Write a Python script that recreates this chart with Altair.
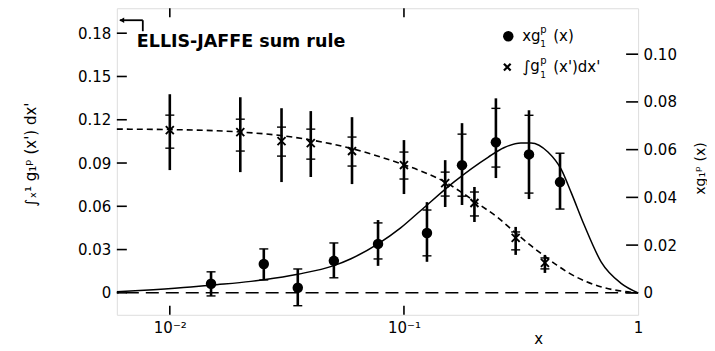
import altair as alt
import pandas as pd

# ---------------- data ----------------
cross_x = [0.01, 0.02, 0.03, 0.04, 0.06, 0.10, 0.15, 0.20, 0.30, 0.40]
cross_y = [0.1128, 0.1114, 0.1052, 0.1038, 0.0983, 0.0886, 0.0761, 0.0623, 0.0381, 0.0208]
cross_outer_lo = [0.0851, 0.0837, 0.0768, 0.0803, 0.0754, 0.0685, 0.0595, 0.0491, 0.0263, 0.0138]
cross_outer_hi = [0.1377, 0.1356, 0.1280, 0.1260, 0.1218, 0.1059, 0.0920, 0.0734, 0.0457, 0.0263]
cross_stat_lo = [0.1003, 0.0983, 0.0948, 0.0927, 0.0879, 0.0789, 0.0671, 0.0533, 0.0298, 0.0166]
cross_stat_hi = [0.1232, 0.1204, 0.1149, 0.1135, 0.1080, 0.0976, 0.0837, 0.0699, 0.0422, 0.0242]

circ_x = [0.015, 0.0252, 0.0352, 0.0502, 0.0775, 0.1254, 0.177, 0.247, 0.342, 0.464]
circ_y = [0.0038, 0.0121, 0.0021, 0.0134, 0.0205, 0.0251, 0.0535, 0.0631, 0.0580, 0.0464]
circ_outer_lo = [-0.0013, 0.0054, -0.0054, 0.0063, 0.0113, 0.0130, 0.0368, 0.0481, 0.0393, 0.0351]
circ_outer_hi = [0.0088, 0.0184, 0.0100, 0.0209, 0.0305, 0.0380, 0.0711, 0.0815, 0.0765, 0.0585]
circ_stat_lo = [-0.0013, 0.0054, -0.0054, 0.0063, 0.0142, 0.0155, 0.0405, 0.0527, 0.0418, 0.0351]
circ_stat_hi = [0.0088, 0.0184, 0.0100, 0.0209, 0.0293, 0.0347, 0.0665, 0.0773, 0.0744, 0.0585]

int_curve_x = [0.00594, 0.01, 0.02, 0.03, 0.04, 0.06, 0.08, 0.10, 0.118, 0.15, 0.175,
               0.20, 0.25, 0.30, 0.35, 0.40, 0.45, 0.50, 0.60, 0.70, 0.85, 1.0]
int_curve_y = [0.1135, 0.1132, 0.1115, 0.1090, 0.1060, 0.1000, 0.0940, 0.0888, 0.0845, 0.0768, 0.0700,
               0.0635, 0.0525, 0.0415, 0.0325, 0.0252, 0.0192, 0.0143, 0.0078, 0.0040, 0.0012, 0.0]

g1_curve_x = [0.00594, 0.0085, 0.0123, 0.015, 0.0222, 0.0252, 0.0352, 0.0502, 0.0594, 0.0775, 0.0968,
              0.118, 0.1637, 0.2286, 0.267, 0.316, 0.349, 0.412, 0.469, 0.518, 0.588, 0.695, 0.846, 1.0]
g1_curve_y = [0.0005, 0.0013, 0.0024, 0.0032, 0.0048, 0.0055, 0.0078, 0.0114, 0.0143, 0.0205, 0.0272,
              0.0345, 0.0465, 0.0568, 0.0608, 0.0628, 0.0628, 0.0590, 0.0518, 0.0420, 0.0285, 0.0130,
              0.0040, 0.0]

left_ticks = [0, 0.03, 0.06, 0.09, 0.12, 0.15, 0.18]
right_ticks = [0, 0.02, 0.04, 0.06, 0.08, 0.10]
x_ticks = [0.01, 0.1, 1]
ellis_jaffe = [0.189]
zero_level = [0.0]

ellis_text = ["ELLIS-JAFFE sum rule"]
left_title = "\u222b\u2093\u00b9 g\u2081\u1d56 (x') dx'"
right_title = "xg\u2081\u1d56 (x)"

# ---------------- layout ----------------
FONT = "DejaVu Sans"
W, H = 522, 307
X_DOMAIN = [0.00594, 1.0]
L_DOMAIN = [-0.01523, 0.19731]
R_DOMAIN = [-0.009205, 0.11925]
CROSS = "M-1,-1L1,1M1,-1L-1,1"

xscale = alt.Scale(type="log", domain=X_DOMAIN, nice=False)
xaxis = alt.Axis(
    values=x_ticks,
    labelExpr="datum.value >= 0.5 ? '1' : (datum.value >= 0.05 ? '10\u207b\u00b9' : '10\u207b\u00b2')",
    ticks=False, tickSize=0, domain=False, grid=False,
    labelFont=FONT, labelFontSize=15, labelColor="black", labelPadding=6, labelFlush=False,
    title="x", titleFont=FONT, titleFontSize=15, titleFontWeight="normal", titleColor="black",
    titleX=422, titleY=32, titleBaseline="bottom", titleAlign="center",
)


def X(field="x"):
    return alt.X(f"{field}:Q", scale=xscale, axis=xaxis)


lscale = alt.Scale(domain=L_DOMAIN, nice=False, zero=False)
laxis = alt.Axis(
    orient="left", values=left_ticks,
    labelExpr="datum.value == 0 ? '0' : format(datum.value, '.2f')",
    ticks=False, tickSize=0, domain=False, grid=False,
    labelFont=FONT, labelFontSize=15, labelColor="black", labelPadding=6,
    title=left_title, titleFont=FONT, titleFontSize=15, titleFontWeight="normal", titleColor="black",
    titleAngle=270, titleX=-86, titleY=146, titleBaseline="middle", titleAlign="center",
)
rscale = alt.Scale(domain=R_DOMAIN, nice=False, zero=False)
raxis = alt.Axis(
    orient="right", values=right_ticks,
    labelExpr="datum.value == 0 ? '0' : format(datum.value, '.2f')",
    ticks=False, tickSize=0, domain=False, grid=False,
    labelFont=FONT, labelFontSize=15, labelColor="black", labelPadding=5,
    title=right_title, titleFont=FONT, titleFontSize=14, titleFontWeight="normal", titleColor="black",
    titleAngle=270, titleX=62, titleY=160, titleBaseline="middle", titleAlign="center",
)


def YL(field):
    return alt.Y(f"{field}:Q", scale=lscale, axis=laxis)


def YR(field):
    return alt.Y(f"{field}:Q", scale=rscale, axis=raxis)


crosses = pd.DataFrame({"x": cross_x, "y": cross_y, "olo": cross_outer_lo, "ohi": cross_outer_hi,
                        "slo": cross_stat_lo, "shi": cross_stat_hi})
circles = pd.DataFrame({"x": circ_x, "y": circ_y, "olo": circ_outer_lo, "ohi": circ_outer_hi,
                        "slo": circ_stat_lo, "shi": circ_stat_hi})
int_curve = pd.DataFrame({"x": int_curve_x, "y": int_curve_y})
g1_curve = pd.DataFrame({"x": g1_curve_x, "y": g1_curve_y})

# ---------------- left (integral) group ----------------
zero_line = alt.Chart(pd.DataFrame({"v": zero_level})).mark_rule(
    color="black", strokeWidth=1.5, strokeDash=[13, 7]).encode(y=YL("v"))
int_line = alt.Chart(int_curve).mark_line(
    color="black", strokeWidth=1.6, strokeDash=[6, 4], interpolate="monotone").encode(x=X(), y=YL("y"))
cross_thick = alt.Chart(crosses).mark_rule(color="black", strokeWidth=2.6).encode(
    x=X(), y=YL("olo"), y2="ohi")
cross_thin = alt.Chart(crosses).mark_rule(color="black", strokeWidth=1.2).encode(
    x=X(), y=YL("slo"), y2="shi")
cross_caps = alt.Chart(crosses).transform_fold(["slo", "shi"], as_=["k", "v"]).mark_tick(
    orient="horizontal", size=9, thickness=1.4, color="black", opacity=1).encode(x=X(), y=YL("v"))
cross_pts = alt.Chart(crosses).mark_point(
    shape=CROSS, size=64, strokeWidth=1.9, color="black", filled=False, opacity=1).encode(x=X(), y=YL("y"))
left_tk = alt.Chart(pd.DataFrame({"v": left_ticks})).mark_tick(
    orient="horizontal", size=10, thickness=1.6, color="black", opacity=1).encode(x=alt.value(5), y=YL("v"))
x_tk_bottom = alt.Chart(pd.DataFrame({"v": x_ticks[:2]})).mark_tick(
    orient="vertical", size=9, thickness=1.6, color="black", opacity=1).encode(x=X("v"), y=alt.value(H - 4.5))
x_tk_top = alt.Chart(pd.DataFrame({"v": x_ticks[:2]})).mark_tick(
    orient="vertical", size=9, thickness=1.6, color="black", opacity=1).encode(x=X("v"), y=alt.value(4.5))
ej = pd.DataFrame({"v": ellis_jaffe})
arrow_h = alt.Chart(ej).mark_rule(color="black", strokeWidth=1.8).encode(
    x=alt.value(3), x2=alt.value(26), y=YL("v"))
arrow_v = alt.Chart(ej).mark_rule(color="black", strokeWidth=1.8).encode(
    x=alt.value(26), y=YL("v"), y2=alt.value(23))
arrow_head = alt.Chart(ej).mark_point(
    shape="triangle-left", filled=True, size=30, color="black", opacity=1).encode(x=alt.value(5), y=YL("v"))
ej_text = alt.Chart(pd.DataFrame({"t": ellis_text})).mark_text(
    align="left", baseline="middle", font=FONT, fontSize=17.5, fontWeight="bold", color="black").encode(
    x=alt.value(20), y=alt.value(34), text="t:N")

left = alt.layer(zero_line, int_line, cross_thick, cross_thin, cross_caps, cross_pts,
                 left_tk, x_tk_bottom, x_tk_top, arrow_h, arrow_v, arrow_head, ej_text)

# ---------------- right (xg1) group ----------------
g1_line = alt.Chart(g1_curve).mark_line(
    color="black", strokeWidth=1.5, interpolate="monotone").encode(x=X(), y=YR("y"))
circ_thick = alt.Chart(circles).mark_rule(color="black", strokeWidth=2.6).encode(
    x=X(), y=YR("olo"), y2="ohi")
circ_thin = alt.Chart(circles).mark_rule(color="black", strokeWidth=1.2).encode(
    x=X(), y=YR("slo"), y2="shi")
circ_caps = alt.Chart(circles).transform_fold(["slo", "shi"], as_=["k", "v"]).mark_tick(
    orient="horizontal", size=9, thickness=1.4, color="black", opacity=1).encode(x=X(), y=YR("v"))
circ_pts = alt.Chart(circles).mark_point(
    shape="circle", size=110, filled=True, color="black", opacity=1).encode(x=X(), y=YR("y"))
right_tk = alt.Chart(pd.DataFrame({"v": right_ticks})).mark_tick(
    orient="horizontal", size=12, thickness=1.6, color="black", opacity=1).encode(x=alt.value(W - 6), y=YR("v"))

# legend
leg1_dot = alt.Chart(pd.DataFrame({"t": ["dot"]})).mark_point(
    shape="circle", size=110, filled=True, color="black", opacity=1).encode(x=alt.value(392), y=alt.value(28))
leg2_x = alt.Chart(pd.DataFrame({"t": ["cross"]})).mark_point(
    shape=CROSS, size=45, strokeWidth=2.2, color="black", filled=False, opacity=1).encode(
    x=alt.value(391), y=alt.value(59))


def txt(s, px, py, size, align="left"):
    return alt.Chart(pd.DataFrame({"t": [s]})).mark_text(
        align=align, baseline="middle", font=FONT, fontSize=size, color="black").encode(
        x=alt.value(px), y=alt.value(py), text="t:N")


legend = [
    leg1_dot, leg2_x,
    txt("xg", 406, 28, 15), txt("p", 424, 22, 10), txt("1", 424, 36, 9), txt("(x)", 437, 28, 15),
    txt("\u222b", 406, 59, 16), txt("g", 414, 58, 15), txt("p", 424, 53, 10), txt("1", 424, 67, 9),
    txt("(x')dx'", 437, 59, 15),
]

right = alt.layer(g1_line, circ_thick, circ_thin, circ_caps, circ_pts, right_tk, *legend)

chart = alt.layer(left, right).resolve_scale(y="independent").properties(
    width=W, height=H,
    padding={"left": 16, "top": 0, "right": 0, "bottom": 0},
).configure_view(stroke="black", strokeWidth=2).configure(background="white")

chart.save("out.html", embed_options={"renderer": "svg", "actions": False})
